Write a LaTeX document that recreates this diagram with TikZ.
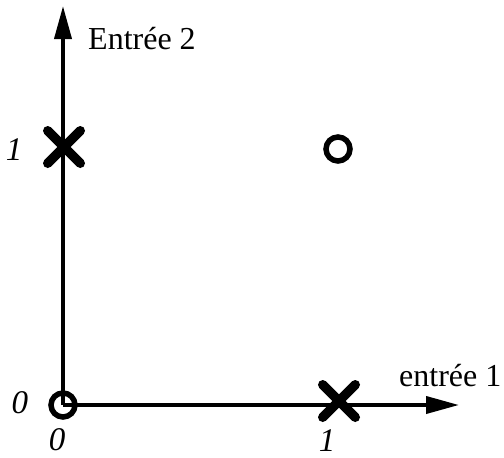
\documentclass[tikz,border=0pt]{standalone}
\usepackage{fontspec}
\setmainfont{Liberation Serif}
\usetikzlibrary{arrows.meta,shapes.misc}
\tikzset{
  >={Triangle[length=33pt,width=17pt]},
  axis/.style={->,line width=3.8pt},
  class x/.style={cross out,draw,line width=9.5pt,line cap=round,
    minimum size=23pt,inner sep=0pt},
  class o/.style={circle,draw,line width=5.5pt,minimum size=24pt,inner sep=0pt},
  tick/.style={font=\fontsize{33}{36}\selectfont\itshape,inner sep=0pt},
  lab/.style={font=\fontsize{32}{36}\selectfont,inner sep=0pt},
}
\begin{document}
\begin{tikzpicture}[x=1pt,y=-1pt]
  \useasboundingbox (0,0) rectangle (504,458);
  % axes
  \coordinate (O) at (63,405);
  \coordinate (xend) at (459,405);
  \coordinate (yend) at (63,6);
  \draw[axis] (O) -- (xend);
  \draw[axis] (O) -- (yend);
  \node[lab,anchor=base west] (lab2) at (88,49) {Entrée 2};
  \node[lab,anchor=base west] (lab1) at (399,386) {entrée 1};
  % points
  \node[class o] (p00) at (O) {};
  \node[class x] (p01) at (64,147) {};
  \node[class x] (p10) at (339,401) {};
  \node[class o] (p11) at (338,149) {};
  % ticks
  \node[tick] (ty1) at (14,150) {1};
  \node[tick] (ty0) at (20,403) {0};
  \node[tick] (tx0) at (57,440) {0};
  \node[tick] (tx1) at (327,441) {1};
\end{tikzpicture}
\end{document}
